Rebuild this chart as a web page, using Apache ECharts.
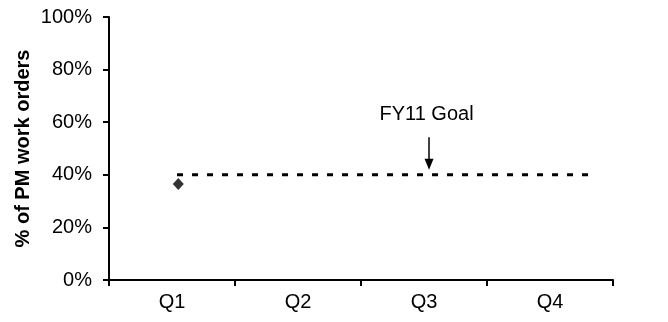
<!DOCTYPE html>
<html>
<head>
<meta charset="utf-8">
<script src="https://cdn.jsdelivr.net/npm/echarts@6/dist/echarts.min.js"></script>
<style>
  html, body { margin: 0; padding: 0; background: #fff; }
  #chart { width: 668px; height: 322px; }
</style>
</head>
<body>
<div id="chart"></div>
<script>
// Quarter categories and the tick values on the percent axis
const quarters = ['Q1', 'Q2', 'Q3', 'Q4'];
const yMin = 0, yMax = 1, yStep = 0.2;

// Actual share of PM work orders (first quarter reported so far)
const actualX = [0.55];
const actualPct = [0.365];

// FY11 goal line: level and horizontal extent on the quarter scale (0..4)
const goalPct = 0.40;
const goalStart = 0.54;
const goalEnd = 3.84;

// Goal annotation: text and arrow position on the same scales
const goalLabel = 'FY11 Goal';
const arrowX = 2.54;
const arrowTop = 0.543;
const arrowTip = 0.44;
const labelX = 2.52;
const labelY = 0.63;

const FONT = '"Liberation Sans", Arial, sans-serif';
const BLACK = '#000';

const chart = echarts.init(document.getElementById('chart'), null, { renderer: 'canvas' });

chart.setOption({
  animation: false,
  backgroundColor: '#fff',
  grid: { left: 109, right: 55, top: 17, bottom: 42, containLabel: false },
  xAxis: [
    {
      type: 'category',
      data: quarters,
      boundaryGap: true,
      axisLine: { show: true, lineStyle: { color: BLACK, width: 2 } },
      axisTick: { show: true, inside: false, length: 6, lineStyle: { color: BLACK, width: 2 } },
      axisLabel: { color: BLACK, fontFamily: FONT, fontSize: 20, margin: 12 },
      splitLine: { show: false }
    },
    {
      type: 'value',
      min: 0, max: 4,
      show: false,
      position: 'bottom'
    }
  ],
  yAxis: {
    type: 'value',
    min: yMin, max: yMax, interval: yStep,
    name: '% of PM work orders',
    nameLocation: 'middle',
    nameGap: 76,
    nameMoveOverlap: false,
    nameRotate: 90,
    nameTextStyle: { color: BLACK, fontFamily: FONT, fontSize: 20, fontWeight: 'bold' },
    axisLine: { show: true, lineStyle: { color: BLACK, width: 2 } },
    axisTick: { show: true, inside: false, length: 6, lineStyle: { color: BLACK, width: 2 } },
    axisLabel: {
      color: BLACK, fontFamily: FONT, fontSize: 20, margin: 17,
      formatter: v => Math.round(v * 100) + '%'
    },
    splitLine: { show: false }
  },
  series: [
    {
      name: 'Goal',
      type: 'line',
      xAxisIndex: 1,
      data: [[goalStart, goalPct], [goalEnd, goalPct]],
      symbol: 'none',
      lineStyle: { color: BLACK, width: 3, type: [6, 9], cap: 'butt' },
      markLine: {
        silent: true,
        symbol: ['none', 'triangle'],
        symbolSize: [9, 11],
        symbolRotate: 180,
        label: { show: false },
        lineStyle: { color: BLACK, width: 1.5, type: 'solid' },
        itemStyle: { color: BLACK },
        data: [[{ coord: [arrowX, arrowTop] }, { coord: [arrowX, arrowTip] }]]
      },
      markPoint: {
        silent: true,
        symbol: 'rect',
        symbolSize: 0,
        label: {
          show: true,
          position: 'inside',
          formatter: goalLabel,
          color: BLACK, fontFamily: FONT, fontSize: 20
        },
        data: [{ coord: [labelX, labelY] }]
      }
    },
    {
      name: 'Actual',
      type: 'scatter',
      xAxisIndex: 1,
      data: actualX.map((x, i) => [x, actualPct[i]]),
      symbol: 'diamond',
      symbolSize: [11, 12],
      itemStyle: { color: BLACK }
    }
  ]
});
</script>
</body>
</html>
